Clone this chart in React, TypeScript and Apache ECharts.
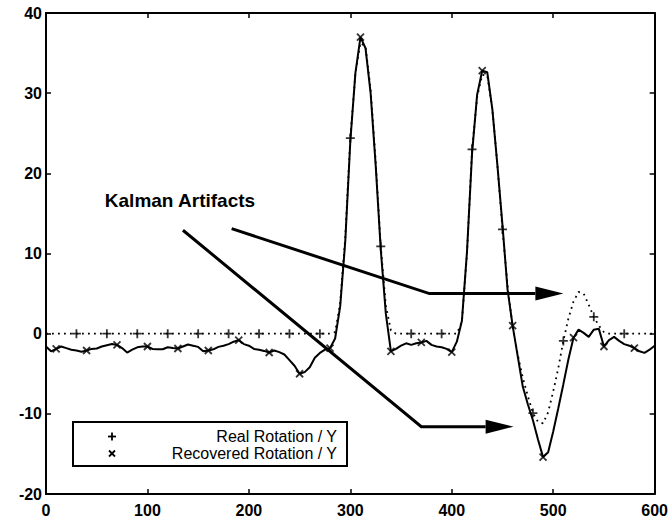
import React, { useEffect, useRef } from "react";
import * as echarts from "echarts";

// sample grid: x = 0, 5, 10, ... 600
const X_STEP = 5;

const realRotation = [
  0, 0, 0, 0, 0, 0, 0, 0, 0, 0, 0, 0, 0, 0, 0, 0, 0, 0, 0, 0,
  0, 0, 0, 0, 0, 0, 0, 0, 0, 0, 0, 0, 0, 0, 0, 0, 0, 0, 0, 0,
  0, 0, 0, 0, 0, 0, 0, 0, 0, 0, 0, 0, 0, 0, 0, 0, 0,
  0.2, 3.8, 12.0, 24.4, 32.5, 36.3, 35.8, 30.5, 21.5, 10.9, 3.5, 0.4,
  0, 0, 0, 0, 0, 0, 0, 0, 0, 0, 0, 0, 0,
  1.5, 10.0, 23.0, 29.5, 32.3, 32.2, 28.0, 21.0, 13.0, 6.0, 0.8,
  -2.6, -5.5, -7.8, -9.9, -11.0, -11.2, -9.8, -7.2, -4.3, -0.9,
  1.9, 4.0, 5.2, 5.0, 3.6, 2.1, 1.0, 0.2,
  0, 0, 0, 0, 0, 0, 0, 0, 0, 0,
];

const recoveredRotation = [
  -1.6, -2.2, -1.9, -1.6, -1.8, -2.0, -2.1, -2.25, -2.1, -1.9,
  -1.85, -1.6, -1.45, -1.3, -1.4, -1.8, -2.35, -2.0, -1.7, -1.6,
  -1.6, -1.9, -1.95, -1.95, -1.7, -1.8, -1.85, -1.6, -1.35, -1.5,
  -1.65, -2.2, -2.1, -1.95, -1.65, -1.5, -1.3, -1.0, -0.8, -1.3,
  -1.5, -1.9, -2.0, -2.15, -2.35, -2.1, -2.3, -2.6, -3.3, -4.0,
  -5.0, -4.8, -4.2, -3.0, -2.4, -2.0, -1.8,
  -0.6, 3.4, 11.5, 24.0, 32.5, 37.0, 35.6, 30.0, 21.0, 10.5, 2.5, -2.2,
  -1.9, -1.5, -1.2, -1.4, -1.2, -1.1, -0.9, -1.4, -1.6, -1.7, -1.9, -2.3, -1.0,
  1.6, 10.2, 22.5, 29.8, 32.8, 32.6, 28.0, 21.0, 13.5, 5.5, 1.0,
  -2.8, -6.6, -8.8, -10.8, -13.2, -15.4, -14.8, -12.2, -9.3, -6.3,
  -3.2, -0.5, 0.5, 0.1, -0.4, 0.5, 0.6, -1.6,
  -0.8, -0.4, -0.9, -1.3, -1.5, -1.8, -2.2, -2.4, -2.0, -1.5,
];

const realMarkerX = [30, 60, 90, 120, 150, 180, 210, 240, 270, 300, 330, 360, 390, 420, 450, 480, 510, 540, 570];
const recoveredMarkerX = [10, 40, 70, 100, 130, 160, 190, 220, 250, 280, 310, 340, 370, 400, 430, 460, 490, 520, 550, 580];

const xTicks = { min: 0, max: 600, interval: 100 };
const yTicks = { min: -20, max: 40, interval: 10 };

const legendLabels = ["Real Rotation / Y", "Recovered Rotation / Y"];
const annotationText = "Kalman Artifacts";
const annotationAnchor: [number, number] = [58, 16.6];
const arrowPaths: [number, number][][] = [
  [[183, 13.1], [378, 5.0], [510, 5.0]],
  [[135, 12.9], [370, -11.6], [461, -11.6]],
];

const FONT = "'Liberation Sans', Arial, Helvetica, sans-serif";
const PLUS = "path://M5 0L5 10M0 5L10 5";
const CROSS = "path://M0 0L10 10M10 0L0 10";

function toPairs(ys: number[]) {
  return ys.map((y, i) => [i * X_STEP, y]);
}
function pick(ys: number[], xs: number[]) {
  return xs.map((x) => [x, ys[Math.round(x / X_STEP)]]);
}

export default function App() {
  const ref = useRef<HTMLDivElement>(null);
  useEffect(() => {
    if (!ref.current) return;
    const chart = echarts.init(ref.current, undefined, { renderer: "svg" });
    const axisLine = { show: true, onZero: false, lineStyle: { color: "#000", width: 2 } };
    const axisTick = { show: true, inside: true, length: 5, lineStyle: { color: "#000", width: 1.5 } };
    const label = { color: "#000", fontSize: 16, fontWeight: "bold" as const, fontFamily: FONT };
    chart.setOption({
      animation: false,
      backgroundColor: "#fff",
      grid: { left: 46, right: 15, top: 13, bottom: 26, containLabel: false },
      xAxis: [
        {
          type: "value", ...xTicks, position: "bottom",
          axisLine, axisTick, splitLine: { show: false },
          axisLabel: { ...label, margin: 8 },
        },
        {
          type: "value", ...xTicks, position: "top",
          axisLine, axisTick, splitLine: { show: false }, axisLabel: { show: false },
        },
      ],
      yAxis: [
        {
          type: "value", ...yTicks, position: "left",
          axisLine, axisTick, splitLine: { show: false },
          axisLabel: { ...label, margin: 4 },
        },
        {
          type: "value", ...yTicks, position: "right",
          axisLine, axisTick, splitLine: { show: false }, axisLabel: { show: false },
        },
      ],
      series: [
        {
          name: legendLabels[1], type: "line", data: toPairs(recoveredRotation),
          showSymbol: false, symbol: "none", silent: true,
          lineStyle: { color: "#000", width: 2 },
        },
        {
          name: legendLabels[0], type: "line", data: toPairs(realRotation),
          showSymbol: false, symbol: "none", silent: true,
          lineStyle: { color: "#000", width: 1.8, type: [1.8, 4.2] },
        },
        {
          type: "scatter", data: pick(realRotation, realMarkerX), symbol: PLUS, symbolSize: 9,
          itemStyle: { color: "rgba(0,0,0,0)", borderColor: "#000", borderWidth: 1.8 }, silent: true, z: 5,
        },
        {
          type: "scatter", data: pick(recoveredRotation, recoveredMarkerX), symbol: CROSS, symbolSize: 7,
          itemStyle: { color: "rgba(0,0,0,0)", borderColor: "#000", borderWidth: 1.8 }, silent: true, z: 5,
        },
      ],
    });

    const px = (p: [number, number]) => chart.convertToPixel({ gridIndex: 0 }, p) as number[];
    const graphics: any[] = [];
    arrowPaths.forEach((path) => {
      const pts = path.map(px);
      const tip = pts[pts.length - 1];
      const headLen = 28, headHalf = 7;
      const base = [tip[0] - headLen, tip[1]];
      const linePts = pts.slice(0, -1).concat([base]);
      graphics.push({
        type: "polyline", z: 10, silent: true,
        shape: { points: linePts },
        style: { stroke: "#000", lineWidth: 3, fill: null, lineJoin: "miter" },
      });
      graphics.push({
        type: "polygon", z: 10, silent: true,
        shape: { points: [[tip[0], tip[1]], [base[0], base[1] - headHalf], [base[0], base[1] + headHalf]] },
        style: { fill: "#000" },
      });
    });
    const ta = px(annotationAnchor);
    graphics.push({
      type: "text", x: ta[0], y: ta[1], z: 10, silent: true,
      style: { text: annotationText, font: `bold 19px ${FONT}`, fill: "#000", verticalAlign: "middle", align: "left" },
    });
    // legend box
    const lx = 73, ly = 422, lw = 274, lh = 44;
    graphics.push({
      type: "rect", z: 20, silent: true,
      shape: { x: lx, y: ly, width: lw, height: lh },
      style: { fill: "#fff", stroke: "#000", lineWidth: 2 },
    });
    const rows = [436.5, 453.5];
    const mx = 112;
    graphics.push({ type: "line", z: 21, shape: { x1: mx - 4, y1: rows[0], x2: mx + 4, y2: rows[0] }, style: { stroke: "#000", lineWidth: 1.8 } });
    graphics.push({ type: "line", z: 21, shape: { x1: mx, y1: rows[0] - 4, x2: mx, y2: rows[0] + 4 }, style: { stroke: "#000", lineWidth: 1.8 } });
    graphics.push({ type: "line", z: 21, shape: { x1: mx - 3, y1: rows[1] - 3, x2: mx + 3, y2: rows[1] + 3 }, style: { stroke: "#000", lineWidth: 1.8 } });
    graphics.push({ type: "line", z: 21, shape: { x1: mx + 3, y1: rows[1] - 3, x2: mx - 3, y2: rows[1] + 3 }, style: { stroke: "#000", lineWidth: 1.8 } });
    legendLabels.forEach((t, i) => {
      graphics.push({
        type: "text", z: 21, x: 337, y: rows[i], silent: true,
        style: { text: t, font: `16px ${FONT}`, fill: "#000", align: "right", verticalAlign: "middle" },
      });
    });
    chart.setOption({ graphic: graphics });
    return () => chart.dispose();
  }, []);
  return <div ref={ref} style={{ position: "fixed", left: 0, top: 0, width: 671, height: 520 }} />;
}
